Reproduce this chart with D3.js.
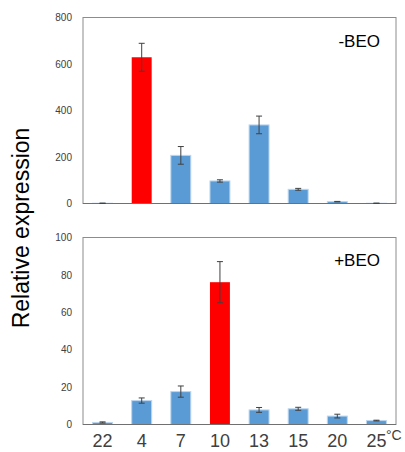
<!DOCTYPE html>
<html>
<head>
<meta charset="utf-8">
<script src="https://cdn.jsdelivr.net/npm/d3@7"></script>
<style>
  body { margin: 0; background: #fff; }
</style>
</head>
<body>
<div id="chart"></div>
<script>
const temps = ["22", "4", "7", "10", "13", "15", "20", "25"];

const minusValues = [1, 629, 207, 97, 338, 61, 8, 1];
const minusErrors = [0.5, 60, 38, 5, 38, 4, 1, 0.5];
const minusTicks = [0, 200, 400, 600, 800];

const plusValues = [1.1, 12.8, 17.6, 76.1, 7.8, 8.4, 4.5, 2.1];
const plusErrors = [0.3, 1.4, 3, 11, 1.3, 0.8, 1, 0.2];
const plusTicks = [0, 20, 40, 60, 80, 100];

const highlightMinus = "4";
const highlightPlus = "10";

const blue = "#5b9bd5";
const red = "#ff0000";
const dark = "#404040";

const W = 405, H = 452;
const left = 83, right = 396;

const svg = d3.select("#chart").append("svg")
    .attr("width", W)
    .attr("height", H)
    .style("font-family", "'Liberation Sans', Arial, sans-serif");

const x = d3.scaleBand()
    .domain(temps)
    .range([left, right])
    .paddingInner(0.49)
    .paddingOuter(0.245);

function panel(values, errors, ticks, top, bottom, highlight, label, labelY) {
    const y = d3.scaleLinear()
        .domain([0, ticks[ticks.length - 1]])
        .range([bottom, top]);

    const g = svg.append("g");

    // frame
    g.append("rect")
        .attr("x", left)
        .attr("y", top)
        .attr("width", right - left)
        .attr("height", bottom - top)
        .attr("fill", "none")
        .attr("stroke", "#8c8c8c")
        .attr("stroke-width", 1);

    const axis = g.append("g")
        .attr("transform", `translate(${left},0)`)
        .call(d3.axisLeft(y).tickValues(ticks).tickSize(0).tickPadding(11));
    axis.select(".domain").remove();
    axis.selectAll("text")
        .style("font-size", "10px")
        .style("font-family", "'Liberation Sans', Arial, sans-serif")
        .attr("fill", dark);

    const data = temps.map((t, i) => ({ t, v: values[i], e: errors[i] }));

    g.selectAll(".bar")
        .data(data)
        .enter()
        .append("rect")
        .attr("class", "bar")
        .attr("x", d => x(d.t))
        .attr("y", d => y(d.v))
        .attr("width", x.bandwidth())
        .attr("height", d => bottom - y(d.v))
        .attr("fill", d => d.t === highlight ? red : blue)
        .attr("stroke", d => d.t === highlight ? "none" : "#bcd6ee")
        .attr("stroke-width", 1);

    // bottom axis line drawn over bars
    g.append("line")
        .attr("x1", left)
        .attr("x2", right)
        .attr("y1", bottom)
        .attr("y2", bottom)
        .attr("stroke", "#707070")
        .attr("stroke-width", 1.2);

    const err = g.selectAll(".err")
        .data(data)
        .enter()
        .append("g")
        .attr("class", "err")
        .attr("stroke", dark)
        .attr("stroke-width", 1);
    const cx = d => x(d.t) + x.bandwidth() / 2;
    err.append("line")
        .attr("x1", cx).attr("x2", cx)
        .attr("y1", d => y(d.v + d.e))
        .attr("y2", d => y(Math.max(0, d.v - d.e)));
    err.append("line")
        .attr("x1", d => cx(d) - 3).attr("x2", d => cx(d) + 3)
        .attr("y1", d => y(d.v + d.e)).attr("y2", d => y(d.v + d.e));
    err.append("line")
        .attr("x1", d => cx(d) - 3).attr("x2", d => cx(d) + 3)
        .attr("y1", d => y(Math.max(0, d.v - d.e))).attr("y2", d => y(Math.max(0, d.v - d.e)));

    g.append("text")
        .attr("x", 380)
        .attr("y", labelY)
        .attr("text-anchor", "end")
        .style("font-size", "17px")
        .attr("fill", "#000")
        .text(label);
}

panel(minusValues, minusErrors, minusTicks, 17.5, 203.5, highlightMinus, "-BEO", 47);
panel(plusValues, plusErrors, plusTicks, 237.5, 424.5, highlightPlus, "+BEO", 266);

// x axis labels
svg.append("g")
    .selectAll("text")
    .data(temps)
    .enter()
    .append("text")
    .attr("x", d => x(d) + x.bandwidth() / 2)
    .attr("y", 446.5)
    .attr("text-anchor", "middle")
    .style("font-size", "18px")
    .attr("fill", dark)
    .text(d => d);

svg.append("text")
    .attr("x", 386)
    .attr("y", 440)
    .style("font-size", "14px")
    .attr("fill", dark)
    .text("°C");

svg.append("text")
    .attr("transform", "translate(29,228) rotate(-90)")
    .attr("text-anchor", "middle")
    .style("font-size", "23px")
    .attr("fill", "#000")
    .text("Relative expression");
</script>
</body>
</html>
